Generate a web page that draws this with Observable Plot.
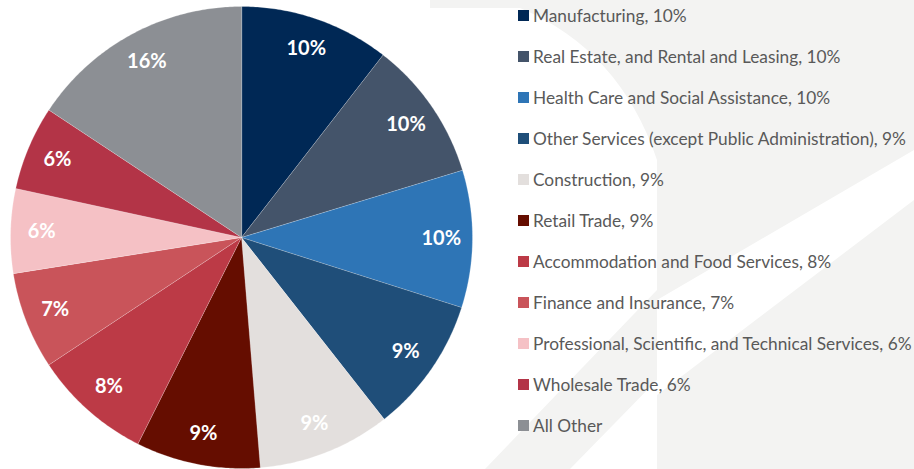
<!DOCTYPE html>
<html>
<head>
<meta charset="utf-8">
<script src="https://cdn.jsdelivr.net/npm/d3@7"></script>
<script src="https://cdn.jsdelivr.net/npm/@observablehq/plot@0.6"></script>
<style>
  html, body { margin: 0; padding: 0; background: #ffffff; }
  #wrap { position: relative; width: 914px; height: 469px; overflow: hidden; font-family: Lato, "Open Sans", sans-serif; }
  #bg { position: absolute; left: 0; top: 0; }
  #chart { position: absolute; left: 0; top: 0; }
  #legend { position: absolute; left: 518px; top: 0; }
  .row { position: absolute; left: 0; height: 20px; display: flex; align-items: center; white-space: nowrap; font-size: 17.3px; color: #595959; }
  .sw { width: 11px; height: 11px; margin-right: 4px; flex: none; }
</style>
</head>
<body>
<div id="wrap">
  <svg id="bg" width="914" height="469">
    <path d="M430 0 L914 0 L914 150 L657 300 L657 160 Q620 50 520 8 L430 8 Z" fill="#f3f3f2"/>
    <path d="M657 395 L914 200 L914 469 L657 469 Z" fill="#f3f3f2"/>
    <path d="M485 469 L657 290 L657 380 L570 469 Z" fill="#f3f3f2"/>
  </svg>
  <div id="chart"></div>
  <div id="legend"></div>
</div>
<script>
const categories = [
  "Manufacturing",
  "Real Estate, and Rental and Leasing",
  "Health Care and Social Assistance",
  "Other Services (except Public Administration)",
  "Construction",
  "Retail Trade",
  "Accommodation and Food Services",
  "Finance and Insurance",
  "Professional, Scientific, and Technical Services",
  "Wholesale Trade",
  "All Other"
];
const shares = [10.5, 9.8, 9.6, 9.5, 9.3, 8.7, 8.3, 6.8, 5.9, 5.9, 15.7];
const sliceLabels = ["10%", "10%", "10%", "9%", "9%", "9%", "8%", "7%", "6%", "6%", "16%"];
const legendLabels = [
  "Manufacturing, 10%",
  "Real Estate, and Rental and Leasing, 10%",
  "Health Care and Social Assistance, 10%",
  "Other Services (except Public Administration), 9%",
  "Construction, 9%",
  "Retail Trade, 9%",
  "Accommodation and Food Services, 8%",
  "Finance and Insurance, 7%",
  "Professional, Scientific, and Technical Services, 6%",
  "Wholesale Trade, 6%",
  "All Other"
];
const colors = ["#002855", "#44546a", "#2e75b6", "#1f4e79", "#e3dfdd", "#650d00", "#bc3a46", "#c9545a", "#f5c1c5", "#b33447", "#8c8f94"];

// Build slice outlines (unit circle coordinates) from the shares
const pie = d3.pie().sort(null).value(d => d)(shares);
const slicePts = [];
const labelPts = [];
pie.forEach((p, i) => {
  const name = categories[i];
  slicePts.push({name, x: 0, y: 0});
  const steps = Math.max(8, Math.ceil((p.endAngle - p.startAngle) / 0.01));
  for (let k = 0; k <= steps; k++) {
    const a = p.startAngle + (p.endAngle - p.startAngle) * k / steps;
    slicePts.push({name, x: Math.sin(a), y: Math.cos(a)});
  }
  const m = (p.startAngle + p.endAngle) / 2;
  labelPts.push({name, label: sliceLabels[i], x: 0.865 * Math.sin(m), y: 0.865 * Math.cos(m)});
});

const plot = Plot.plot({
  width: 482,
  height: 469,
  marginLeft: 10,
  marginRight: 10,
  marginTop: 6,
  marginBottom: 1,
  style: {background: "transparent"},
  x: {domain: [-1, 1], axis: null},
  y: {domain: [-1, 1], axis: null},
  color: {domain: categories, range: colors},
  marks: [
    Plot.line(slicePts, {x: "x", y: "y", z: "name", fill: "name", stroke: "#ffffff", strokeWidth: 0.4, strokeOpacity: 0.6, curve: "linear-closed"}),
    Plot.text(labelPts, {x: "x", y: "y", text: "label", fill: "#ffffff", fontSize: 20, fontWeight: "bold", fontFamily: "Lato, 'Open Sans', sans-serif"})
  ]
});
document.getElementById("chart").appendChild(plot);

const legend = document.getElementById("legend");
legendLabels.forEach((t, i) => {
  const row = document.createElement("div");
  row.className = "row";
  row.style.top = (5 + i * 41) + "px";
  const sw = document.createElement("span");
  sw.className = "sw";
  sw.style.background = colors[i];
  const tx = document.createElement("span");
  tx.textContent = t;
  row.appendChild(sw);
  row.appendChild(tx);
  legend.appendChild(row);
});
</script>
</body>
</html>
